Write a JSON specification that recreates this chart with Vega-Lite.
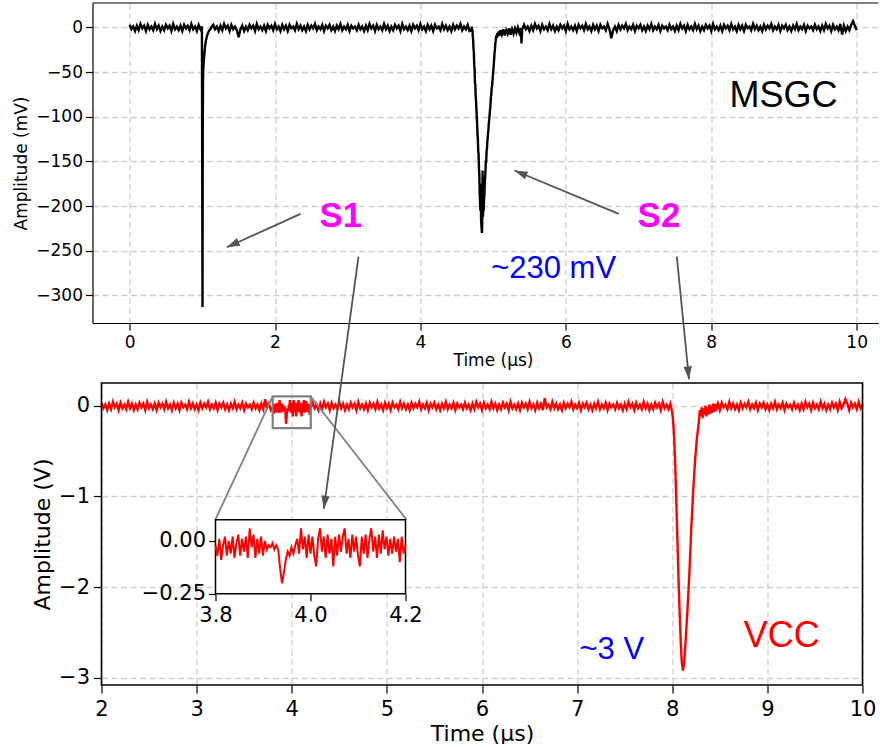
{
  "$schema": "https://vega.github.io/schema/vega-lite/v6.json",
  "background": "white",
  "padding": {"left": 11.5, "top": 2, "right": 0, "bottom": 0},
  "bounds": "flush",
  "spacing": 60,
  "config": {
    "view": {"stroke": null},
    "axis": {
      "labelFont": "DejaVu Sans", "titleFont": "DejaVu Sans", "titleFontWeight": "normal",
      "labelColor": "black", "titleColor": "black", "tickColor": "black", "domainColor": "black",
      "gridColor": "#cfcfcf", "gridDash": [6, 3.5], "gridWidth": 1.3, "tickWidth": 1.2,
      "labelFlush": false, "labelOverlap": false
    },
    "text": {"font": "Liberation Sans"}
  },
  "datasets": {
    "msgc": [
      {"t":0.000,"v":3},{"t":0.025,"v":-2},{"t":0.050,"v":1},{"t":0.075,"v":-4},{"t":0.100,"v":2},{"t":0.125,"v":-3},{"t":0.150,"v":4},{"t":0.175,"v":-1},{"t":0.200,"v":2},{"t":0.225,"v":-4},{"t":0.250,"v":3},{"t":0.275,"v":-2},{"t":0.300,"v":1},{"t":0.325,"v":-3},{"t":0.350,"v":4},{"t":0.375,"v":-2},{"t":0.400,"v":2},{"t":0.425,"v":-4},{"t":0.450,"v":1},{"t":0.475,"v":-3},{"t":0.500,"v":3},{"t":0.525,"v":-1},{"t":0.550,"v":2},{"t":0.575,"v":-4},{"t":0.600,"v":4},{"t":0.625,"v":-2},{"t":0.650,"v":1},{"t":0.675,"v":-3},{"t":0.700,"v":2},{"t":0.725,"v":-4},{"t":0.750,"v":3},{"t":0.775,"v":-1},{"t":0.800,"v":2},{"t":0.825,"v":-3},{"t":0.850,"v":4},{"t":0.875,"v":-2},{"t":0.900,"v":1},{"t":0.925,"v":-4},{"t":0.950,"v":3},{"t":0.975,"v":-2},{"t":0.995,"v":1},
      {"t":1.003,"v":-313},{"t":1.006,"v":-120},{"t":1.010,"v":-58},{"t":1.014,"v":-46},{"t":1.018,"v":-40},{"t":1.025,"v":-33},{"t":1.032,"v":-27},{"t":1.04,"v":-20},{"t":1.05,"v":-15},{"t":1.06,"v":-11},{"t":1.075,"v":-7},{"t":1.09,"v":-4},{"t":1.11,"v":-2},{"t":1.13,"v":1},
      {"t":1.150,"v":3},{"t":1.175,"v":-2},{"t":1.200,"v":1},{"t":1.225,"v":-4},{"t":1.250,"v":2},{"t":1.275,"v":-3},{"t":1.300,"v":4},{"t":1.325,"v":-1},{"t":1.350,"v":2},{"t":1.375,"v":-4},{"t":1.400,"v":3},{"t":1.425,"v":-2},{"t":1.450,"v":1},{"t":1.475,"v":-3},{"t":1.500,"v":-11},{"t":1.525,"v":-2},{"t":1.550,"v":2},{"t":1.575,"v":-4},{"t":1.600,"v":1},{"t":1.625,"v":-3},{"t":1.650,"v":3},{"t":1.675,"v":-1},{"t":1.700,"v":2},{"t":1.725,"v":-4},{"t":1.750,"v":4},{"t":1.775,"v":-2},{"t":1.800,"v":1},{"t":1.825,"v":-3},{"t":1.850,"v":2},{"t":1.875,"v":-4},{"t":1.900,"v":3},{"t":1.925,"v":-1},{"t":1.950,"v":2},{"t":1.975,"v":-3},{"t":2.000,"v":4},{"t":2.025,"v":-2},{"t":2.050,"v":1},{"t":2.075,"v":-4},{"t":2.100,"v":3},{"t":2.125,"v":-2},
      {"t":2.150,"v":2},{"t":2.175,"v":-4},{"t":2.200,"v":3},{"t":2.225,"v":-1},{"t":2.250,"v":1},{"t":2.275,"v":-3},{"t":2.300,"v":4},{"t":2.325,"v":-2},{"t":2.350,"v":2},{"t":2.375,"v":-3},{"t":2.400,"v":1},{"t":2.425,"v":-4},{"t":2.450,"v":3},{"t":2.475,"v":-2},{"t":2.500,"v":2},{"t":2.525,"v":-1},{"t":2.550,"v":4},{"t":2.575,"v":-3},{"t":2.600,"v":1},{"t":2.625,"v":-2},{"t":2.650,"v":3},{"t":2.675,"v":-4},{"t":2.700,"v":2},{"t":2.725,"v":-1},{"t":2.750,"v":3},{"t":2.775,"v":-3},{"t":2.800,"v":1},{"t":2.825,"v":-4},{"t":2.850,"v":2},{"t":2.875,"v":-2},{"t":2.900,"v":4},{"t":2.925,"v":-3},{"t":2.950,"v":1},{"t":2.975,"v":-2},{"t":3.000,"v":3},{"t":3.025,"v":-4},{"t":3.050,"v":2},{"t":3.075,"v":-1},{"t":3.100,"v":1},{"t":3.125,"v":-3},
      {"t":3.150,"v":3},{"t":3.175,"v":-2},{"t":3.200,"v":1},{"t":3.225,"v":-4},{"t":3.250,"v":2},{"t":3.275,"v":-3},{"t":3.300,"v":4},{"t":3.325,"v":-1},{"t":3.350,"v":2},{"t":3.375,"v":-4},{"t":3.400,"v":3},{"t":3.425,"v":-2},{"t":3.450,"v":1},{"t":3.475,"v":-3},{"t":3.500,"v":4},{"t":3.525,"v":-2},{"t":3.550,"v":2},{"t":3.575,"v":-4},{"t":3.600,"v":1},{"t":3.625,"v":-3},{"t":3.650,"v":3},{"t":3.675,"v":-1},{"t":3.700,"v":2},{"t":3.725,"v":-4},{"t":3.750,"v":4},{"t":3.775,"v":-2},{"t":3.800,"v":1},{"t":3.825,"v":-3},{"t":3.850,"v":2},{"t":3.875,"v":-4},{"t":3.900,"v":3},{"t":3.925,"v":-1},{"t":3.950,"v":2},{"t":3.975,"v":-3},{"t":4.000,"v":4},{"t":4.025,"v":-2},{"t":4.050,"v":1},{"t":4.075,"v":-4},{"t":4.100,"v":3},{"t":4.125,"v":-2},
      {"t":4.150,"v":2},{"t":4.175,"v":-4},{"t":4.200,"v":3},{"t":4.225,"v":-1},{"t":4.250,"v":1},{"t":4.275,"v":-3},{"t":4.300,"v":4},{"t":4.325,"v":-2},{"t":4.350,"v":2},{"t":4.375,"v":-3},{"t":4.400,"v":1},{"t":4.425,"v":-4},{"t":4.450,"v":3},{"t":4.475,"v":-2},{"t":4.500,"v":2},{"t":4.525,"v":-1},{"t":4.550,"v":4},{"t":4.575,"v":-3},{"t":4.600,"v":1},{"t":4.625,"v":-2},{"t":4.650,"v":3},{"t":4.675,"v":-4},
      {"t":4.700,"v":-3},{"t":4.705,"v":1},{"t":4.710,"v":-4},{"t":4.715,"v":-2},{"t":4.720,"v":-10},{"t":4.725,"v":-14},{"t":4.730,"v":-24},{"t":4.735,"v":-28},{"t":4.740,"v":-42},{"t":4.745,"v":-46},{"t":4.750,"v":-62},{"t":4.755,"v":-64},{"t":4.760,"v":-78},{"t":4.765,"v":-82},{"t":4.770,"v":-92},{"t":4.775,"v":-100},{"t":4.780,"v":-108},{"t":4.785,"v":-120},{"t":4.790,"v":-125},{"t":4.795,"v":-138},{"t":4.800,"v":-142},{"t":4.805,"v":-158},{"t":4.810,"v":-165},{"t":4.815,"v":-185},{"t":4.820,"v":-195},{"t":4.825,"v":-205},{"t":4.830,"v":-175},{"t":4.835,"v":-218},{"t":4.840,"v":-222},{"t":4.846,"v":-230},{"t":4.850,"v":-218},{"t":4.855,"v":-160},{"t":4.860,"v":-212},{"t":4.865,"v":-200},{"t":4.870,"v":-205},{"t":4.875,"v":-192},{"t":4.880,"v":-188},{"t":4.885,"v":-172},{"t":4.890,"v":-168},{"t":4.895,"v":-160},{"t":4.900,"v":-150},{"t":4.905,"v":-150},{"t":4.910,"v":-138},{"t":4.915,"v":-136},{"t":4.920,"v":-128},{"t":4.925,"v":-124},{"t":4.930,"v":-118},{"t":4.935,"v":-115},{"t":4.940,"v":-108},{"t":4.945,"v":-104},{"t":4.950,"v":-100},{"t":4.955,"v":-94},{"t":4.960,"v":-90},{"t":4.965,"v":-84},{"t":4.970,"v":-78},{"t":4.975,"v":-74},{"t":4.980,"v":-68},{"t":4.985,"v":-66},{"t":4.990,"v":-60},{"t":4.995,"v":-56},{"t":5.000,"v":-50},{"t":5.005,"v":-46},{"t":5.010,"v":-40},{"t":5.015,"v":-34},{"t":5.020,"v":-28},{"t":5.025,"v":-24},{"t":5.030,"v":-18},{"t":5.035,"v":-15},{"t":5.040,"v":-11},{"t":5.045,"v":-9},{"t":5.050,"v":-12},{"t":5.060,"v":-6},{"t":5.070,"v":-10},{"t":5.080,"v":-4},{"t":5.090,"v":-9},{"t":5.100,"v":-3},
      {"t":5.12,"v":-8},{"t":5.14,"v":-2},{"t":5.16,"v":-9},{"t":5.18,"v":-3},{"t":5.20,"v":-7},{"t":5.22,"v":-1},{"t":5.24,"v":-8},{"t":5.26,"v":-2},{"t":5.28,"v":-7},{"t":5.30,"v":-1},{"t":5.32,"v":-6},{"t":5.34,"v":0},{"t":5.36,"v":-6},{"t":5.38,"v":-1},{"t":5.39,"v":-18},{"t":5.40,"v":-2},
      {"t":5.425,"v":3},{"t":5.450,"v":-2},{"t":5.475,"v":1},{"t":5.500,"v":-4},{"t":5.525,"v":2},{"t":5.550,"v":-3},{"t":5.575,"v":4},{"t":5.600,"v":-1},{"t":5.625,"v":2},{"t":5.650,"v":-4},{"t":5.675,"v":3},{"t":5.700,"v":-2},{"t":5.725,"v":1},{"t":5.750,"v":-3},{"t":5.775,"v":4},{"t":5.800,"v":-2},{"t":5.825,"v":2},{"t":5.850,"v":-4},{"t":5.875,"v":1},{"t":5.900,"v":-3},{"t":5.925,"v":3},{"t":5.950,"v":-1},{"t":5.975,"v":2},{"t":6.000,"v":-4},{"t":6.025,"v":4},{"t":6.050,"v":-2},{"t":6.075,"v":1},{"t":6.100,"v":-3},{"t":6.125,"v":2},{"t":6.150,"v":-4},{"t":6.175,"v":3},{"t":6.200,"v":-1},{"t":6.225,"v":2},{"t":6.250,"v":-3},{"t":6.275,"v":4},{"t":6.300,"v":-2},{"t":6.325,"v":1},{"t":6.350,"v":-4},{"t":6.375,"v":3},{"t":6.400,"v":-2},
      {"t":6.425,"v":2},{"t":6.450,"v":-4},{"t":6.475,"v":3},{"t":6.500,"v":-1},{"t":6.525,"v":1},{"t":6.550,"v":-3},{"t":6.575,"v":4},{"t":6.600,"v":-2},{"t":6.625,"v":-12},{"t":6.650,"v":-3},{"t":6.675,"v":1},{"t":6.700,"v":-4},{"t":6.725,"v":3},{"t":6.750,"v":-2},{"t":6.775,"v":2},{"t":6.800,"v":-1},{"t":6.825,"v":4},{"t":6.850,"v":-3},{"t":6.875,"v":1},{"t":6.900,"v":-2},{"t":6.925,"v":3},{"t":6.950,"v":-4},{"t":6.975,"v":2},{"t":7.000,"v":-1},{"t":7.025,"v":3},{"t":7.050,"v":-3},{"t":7.075,"v":1},{"t":7.100,"v":-4},{"t":7.125,"v":2},{"t":7.150,"v":-2},{"t":7.175,"v":4},{"t":7.200,"v":-3},{"t":7.225,"v":1},{"t":7.250,"v":-2},{"t":7.275,"v":3},{"t":7.300,"v":-4},{"t":7.325,"v":2},{"t":7.350,"v":-1},{"t":7.375,"v":1},{"t":7.400,"v":-3},
      {"t":7.425,"v":3},{"t":7.450,"v":-2},{"t":7.475,"v":1},{"t":7.500,"v":-4},{"t":7.525,"v":2},{"t":7.550,"v":-3},{"t":7.575,"v":4},{"t":7.600,"v":-1},{"t":7.625,"v":2},{"t":7.650,"v":-4},{"t":7.675,"v":3},{"t":7.700,"v":-2},{"t":7.725,"v":1},{"t":7.750,"v":-3},{"t":7.775,"v":4},{"t":7.800,"v":-2},{"t":7.825,"v":2},{"t":7.850,"v":-4},{"t":7.875,"v":1},{"t":7.900,"v":-3},{"t":7.925,"v":3},{"t":7.950,"v":-1},{"t":7.975,"v":2},{"t":8.000,"v":-4},{"t":8.025,"v":4},{"t":8.050,"v":-2},{"t":8.075,"v":1},{"t":8.100,"v":-3},{"t":8.125,"v":2},{"t":8.150,"v":-4},{"t":8.175,"v":3},{"t":8.200,"v":-1},{"t":8.225,"v":2},{"t":8.250,"v":-3},{"t":8.275,"v":4},{"t":8.300,"v":-2},{"t":8.325,"v":1},{"t":8.350,"v":-4},{"t":8.375,"v":3},{"t":8.400,"v":-2},
      {"t":8.425,"v":2},{"t":8.450,"v":-4},{"t":8.475,"v":3},{"t":8.500,"v":-1},{"t":8.525,"v":1},{"t":8.550,"v":-3},{"t":8.575,"v":4},{"t":8.600,"v":-2},{"t":8.625,"v":2},{"t":8.650,"v":-3},{"t":8.675,"v":1},{"t":8.700,"v":-4},{"t":8.725,"v":3},{"t":8.750,"v":-2},{"t":8.775,"v":2},{"t":8.800,"v":-1},{"t":8.825,"v":4},{"t":8.850,"v":-3},{"t":8.875,"v":1},{"t":8.900,"v":-2},{"t":8.925,"v":3},{"t":8.950,"v":-4},{"t":8.975,"v":2},{"t":9.000,"v":-1},{"t":9.025,"v":3},{"t":9.050,"v":-3},{"t":9.075,"v":1},{"t":9.100,"v":-4},{"t":9.125,"v":2},{"t":9.150,"v":-2},{"t":9.175,"v":4},{"t":9.200,"v":-3},{"t":9.225,"v":1},{"t":9.250,"v":-2},{"t":9.275,"v":3},{"t":9.300,"v":-4},{"t":9.325,"v":2},{"t":9.350,"v":-1},{"t":9.375,"v":1},{"t":9.400,"v":-3},
      {"t":9.425,"v":3},{"t":9.450,"v":-2},{"t":9.475,"v":1},{"t":9.500,"v":-4},{"t":9.525,"v":2},{"t":9.550,"v":-3},{"t":9.575,"v":4},{"t":9.600,"v":-1},{"t":9.625,"v":2},{"t":9.650,"v":-4},{"t":9.675,"v":3},{"t":9.700,"v":-2},{"t":9.725,"v":1},{"t":9.750,"v":-3},{"t":9.775,"v":4},{"t":9.800,"v":-8},{"t":9.825,"v":2},{"t":9.850,"v":-4},{"t":9.875,"v":1},{"t":9.900,"v":-3},{"t":9.925,"v":3},{"t":9.950,"v":7},{"t":9.975,"v":2},{"t":10.000,"v":-3}
    ],
    "vcc": [
      {"t":2.00,"v":0.03},{"t":2.02,"v":-0.03},{"t":2.04,"v":0.01},{"t":2.06,"v":-0.05},{"t":2.08,"v":0.02},{"t":2.10,"v":-0.04},{"t":2.12,"v":0.04},{"t":2.14,"v":-0.02},{"t":2.16,"v":0.02},{"t":2.18,"v":-0.05},{"t":2.20,"v":0.03},{"t":2.22,"v":-0.03},{"t":2.24,"v":0.01},{"t":2.26,"v":-0.04},{"t":2.28,"v":0.04},{"t":2.30,"v":-0.03},{"t":2.32,"v":0.02},{"t":2.34,"v":-0.05},{"t":2.36,"v":0.01},{"t":2.38,"v":-0.04},{"t":2.40,"v":0.03},{"t":2.42,"v":-0.02},{"t":2.44,"v":0.02},{"t":2.46,"v":-0.05},{"t":2.48,"v":0.04},{"t":2.50,"v":-0.03},{"t":2.52,"v":0.01},{"t":2.54,"v":-0.04},{"t":2.56,"v":0.02},{"t":2.58,"v":-0.05},{"t":2.60,"v":0.03},{"t":2.62,"v":-0.02},{"t":2.64,"v":0.02},{"t":2.66,"v":-0.04},{"t":2.68,"v":0.04},{"t":2.70,"v":-0.03},{"t":2.72,"v":0.01},{"t":2.74,"v":-0.05},{"t":2.76,"v":0.03},{"t":2.78,"v":-0.03},
      {"t":2.80,"v":0.02},{"t":2.82,"v":-0.05},{"t":2.84,"v":0.03},{"t":2.86,"v":-0.02},{"t":2.88,"v":0.01},{"t":2.90,"v":-0.04},{"t":2.92,"v":0.04},{"t":2.94,"v":-0.03},{"t":2.96,"v":0.02},{"t":2.98,"v":-0.04},{"t":3.00,"v":0.01},{"t":3.02,"v":-0.05},{"t":3.04,"v":0.03},{"t":3.06,"v":-0.03},{"t":3.08,"v":0.02},{"t":3.10,"v":-0.02},{"t":3.12,"v":0.04},{"t":3.14,"v":-0.04},{"t":3.16,"v":0.01},{"t":3.18,"v":-0.03},{"t":3.20,"v":0.03},{"t":3.22,"v":-0.05},{"t":3.24,"v":0.02},{"t":3.26,"v":-0.02},{"t":3.28,"v":0.03},{"t":3.30,"v":-0.04},{"t":3.32,"v":0.01},{"t":3.34,"v":-0.05},{"t":3.36,"v":0.02},{"t":3.38,"v":-0.03},{"t":3.40,"v":0.04},{"t":3.42,"v":-0.04},{"t":3.44,"v":0.01},{"t":3.46,"v":-0.03},{"t":3.48,"v":0.03},{"t":3.50,"v":-0.05},{"t":3.52,"v":0.02},{"t":3.54,"v":-0.02},{"t":3.56,"v":0.01},{"t":3.58,"v":-0.04},
      {"t":3.60,"v":0.03},{"t":3.62,"v":-0.03},{"t":3.64,"v":0.01},{"t":3.66,"v":-0.05},{"t":3.68,"v":0.02},{"t":3.70,"v":-0.04},{"t":3.72,"v":0.07},{"t":3.74,"v":-0.02},{"t":3.76,"v":0.02},{"t":3.78,"v":-0.05},
      {"t":3.800,"v":-0.02},{"t":3.804,"v":-0.07},{"t":3.808,"v":0.01},{"t":3.812,"v":-0.09},{"t":3.816,"v":-0.02},{"t":3.820,"v":0.02},{"t":3.824,"v":-0.07},{"t":3.828,"v":0.00},{"t":3.832,"v":-0.06},{"t":3.836,"v":0.02},{"t":3.840,"v":-0.08},{"t":3.844,"v":-0.01},{"t":3.848,"v":0.03},{"t":3.852,"v":-0.07},{"t":3.856,"v":0.01},{"t":3.860,"v":-0.05},{"t":3.864,"v":0.02},{"t":3.868,"v":-0.08},{"t":3.872,"v":0.06},{"t":3.876,"v":-0.03},{"t":3.880,"v":0.03},{"t":3.884,"v":-0.08},{"t":3.888,"v":0.01},{"t":3.892,"v":-0.06},{"t":3.896,"v":0.02},{"t":3.900,"v":-0.07},{"t":3.904,"v":0.00},{"t":3.908,"v":-0.04},{"t":3.912,"v":-0.02},{"t":3.916,"v":-0.03},{"t":3.920,"v":-0.01},{"t":3.924,"v":-0.04},{"t":3.928,"v":-0.02},{"t":3.932,"v":-0.04},{"t":3.936,"v":-0.13},{"t":3.940,"v":-0.20},{"t":3.944,"v":-0.15},{"t":3.948,"v":-0.09},{"t":3.952,"v":-0.05},{"t":3.956,"v":-0.07},{"t":3.960,"v":-0.03},{"t":3.964,"v":-0.06},{"t":3.968,"v":-0.02},{"t":3.972,"v":0.01},{"t":3.976,"v":-0.06},{"t":3.980,"v":0.06},{"t":3.984,"v":-0.04},{"t":3.988,"v":0.02},{"t":3.992,"v":-0.08},{"t":3.996,"v":0.03},{"t":4.000,"v":-0.06},{"t":4.004,"v":0.02},{"t":4.008,"v":-0.07},{"t":4.012,"v":-0.12},{"t":4.016,"v":0.01},{"t":4.020,"v":0.06},{"t":4.024,"v":-0.05},{"t":4.028,"v":0.02},{"t":4.032,"v":-0.08},{"t":4.036,"v":0.03},{"t":4.040,"v":-0.06},{"t":4.044,"v":0.01},{"t":4.048,"v":-0.12},{"t":4.052,"v":0.02},{"t":4.056,"v":-0.07},{"t":4.060,"v":0.03},{"t":4.064,"v":-0.05},{"t":4.068,"v":0.02},{"t":4.072,"v":0.06},{"t":4.076,"v":-0.06},{"t":4.080,"v":0.01},{"t":4.084,"v":-0.08},{"t":4.088,"v":0.03},{"t":4.092,"v":-0.05},{"t":4.096,"v":0.02},{"t":4.100,"v":-0.07},{"t":4.104,"v":-0.12},{"t":4.108,"v":0.02},{"t":4.112,"v":-0.06},{"t":4.116,"v":0.03},{"t":4.120,"v":-0.08},{"t":4.124,"v":0.01},{"t":4.128,"v":0.06},{"t":4.132,"v":-0.05},{"t":4.136,"v":0.02},{"t":4.140,"v":-0.08},{"t":4.144,"v":0.03},{"t":4.148,"v":-0.06},{"t":4.152,"v":0.05},{"t":4.156,"v":-0.04},{"t":4.160,"v":0.02},{"t":4.164,"v":-0.07},{"t":4.168,"v":0.01},{"t":4.172,"v":-0.06},{"t":4.176,"v":0.02},{"t":4.180,"v":-0.05},{"t":4.184,"v":0.01},{"t":4.188,"v":-0.10},{"t":4.192,"v":0.02},{"t":4.196,"v":-0.06},{"t":4.200,"v":-0.02},
      {"t":4.22,"v":0.03},{"t":4.24,"v":-0.03},{"t":4.26,"v":0.01},{"t":4.28,"v":-0.05},{"t":4.30,"v":0.02},{"t":4.32,"v":-0.04},{"t":4.34,"v":0.04},{"t":4.36,"v":-0.02},{"t":4.38,"v":0.02},{"t":4.40,"v":-0.05},{"t":4.42,"v":0.03},{"t":4.44,"v":-0.03},{"t":4.46,"v":0.01},{"t":4.48,"v":-0.04},{"t":4.50,"v":0.04},{"t":4.52,"v":-0.03},{"t":4.54,"v":0.02},{"t":4.56,"v":-0.05},{"t":4.58,"v":0.01},{"t":4.60,"v":-0.04},{"t":4.62,"v":0.03},{"t":4.64,"v":-0.02},{"t":4.66,"v":0.02},{"t":4.68,"v":-0.05},{"t":4.70,"v":0.04},{"t":4.72,"v":-0.03},{"t":4.74,"v":0.01},{"t":4.76,"v":-0.04},{"t":4.78,"v":0.02},{"t":4.80,"v":-0.05},{"t":4.82,"v":0.03},{"t":4.84,"v":-0.02},{"t":4.86,"v":0.02},{"t":4.88,"v":-0.04},{"t":4.90,"v":0.04},{"t":4.92,"v":-0.03},{"t":4.94,"v":0.01},{"t":4.96,"v":-0.05},{"t":4.98,"v":0.03},{"t":5.00,"v":-0.03},
      {"t":5.02,"v":0.02},{"t":5.04,"v":-0.05},{"t":5.06,"v":0.03},{"t":5.08,"v":-0.02},{"t":5.10,"v":0.01},{"t":5.12,"v":-0.04},{"t":5.14,"v":0.04},{"t":5.16,"v":-0.03},{"t":5.18,"v":0.02},{"t":5.20,"v":-0.04},{"t":5.22,"v":0.01},{"t":5.24,"v":-0.05},{"t":5.26,"v":0.03},{"t":5.28,"v":-0.03},{"t":5.30,"v":0.02},{"t":5.32,"v":-0.02},{"t":5.34,"v":0.04},{"t":5.36,"v":-0.04},{"t":5.38,"v":0.01},{"t":5.40,"v":-0.03},{"t":5.42,"v":0.03},{"t":5.44,"v":-0.05},{"t":5.46,"v":0.02},{"t":5.48,"v":-0.02},{"t":5.50,"v":0.03},{"t":5.52,"v":-0.04},{"t":5.54,"v":0.01},{"t":5.56,"v":-0.05},{"t":5.58,"v":0.02},{"t":5.60,"v":-0.03},{"t":5.62,"v":0.04},{"t":5.64,"v":-0.04},{"t":5.66,"v":0.01},{"t":5.68,"v":-0.03},{"t":5.70,"v":0.03},{"t":5.72,"v":-0.05},{"t":5.74,"v":0.02},{"t":5.76,"v":-0.02},{"t":5.78,"v":0.01},{"t":5.80,"v":-0.04},
      {"t":5.82,"v":0.03},{"t":5.84,"v":-0.03},{"t":5.86,"v":0.01},{"t":5.88,"v":-0.05},{"t":5.90,"v":0.02},{"t":5.92,"v":-0.04},{"t":5.94,"v":0.04},{"t":5.96,"v":-0.02},{"t":5.98,"v":0.02},{"t":6.00,"v":-0.05},{"t":6.02,"v":0.03},{"t":6.04,"v":-0.03},{"t":6.06,"v":0.01},{"t":6.08,"v":-0.04},{"t":6.10,"v":0.04},{"t":6.12,"v":-0.03},{"t":6.14,"v":0.02},{"t":6.16,"v":-0.05},{"t":6.18,"v":0.01},{"t":6.20,"v":-0.04},{"t":6.22,"v":0.03},{"t":6.24,"v":-0.02},{"t":6.26,"v":0.02},{"t":6.28,"v":-0.05},{"t":6.30,"v":0.04},{"t":6.32,"v":-0.03},{"t":6.34,"v":0.01},{"t":6.36,"v":-0.04},{"t":6.38,"v":0.02},{"t":6.40,"v":-0.05},{"t":6.42,"v":0.03},{"t":6.44,"v":-0.02},{"t":6.46,"v":0.02},{"t":6.48,"v":-0.04},{"t":6.50,"v":0.04},{"t":6.52,"v":-0.03},{"t":6.54,"v":0.01},{"t":6.56,"v":-0.05},{"t":6.58,"v":0.03},{"t":6.60,"v":-0.03},
      {"t":6.62,"v":0.02},{"t":6.64,"v":-0.05},{"t":6.66,"v":0.08},{"t":6.68,"v":-0.02},{"t":6.70,"v":0.01},{"t":6.72,"v":-0.04},{"t":6.74,"v":0.04},{"t":6.76,"v":-0.03},{"t":6.78,"v":0.02},{"t":6.80,"v":-0.04},{"t":6.82,"v":0.01},{"t":6.84,"v":-0.05},{"t":6.86,"v":0.03},{"t":6.88,"v":-0.03},{"t":6.90,"v":0.02},{"t":6.92,"v":-0.02},{"t":6.94,"v":0.04},{"t":6.96,"v":-0.04},{"t":6.98,"v":0.01},{"t":7.00,"v":-0.03},{"t":7.02,"v":0.03},{"t":7.04,"v":-0.05},{"t":7.06,"v":0.02},{"t":7.08,"v":-0.02},{"t":7.10,"v":0.03},{"t":7.12,"v":-0.04},{"t":7.14,"v":0.01},{"t":7.16,"v":-0.05},{"t":7.18,"v":0.02},{"t":7.20,"v":-0.03},{"t":7.22,"v":0.04},{"t":7.24,"v":-0.04},{"t":7.26,"v":0.01},{"t":7.28,"v":-0.03},{"t":7.30,"v":0.03},{"t":7.32,"v":-0.05},{"t":7.34,"v":0.02},{"t":7.36,"v":-0.02},{"t":7.38,"v":0.01},{"t":7.40,"v":-0.04},
      {"t":7.42,"v":0.03},{"t":7.44,"v":-0.03},{"t":7.46,"v":0.01},{"t":7.48,"v":-0.05},{"t":7.50,"v":0.02},{"t":7.52,"v":-0.04},{"t":7.54,"v":0.04},{"t":7.56,"v":-0.02},{"t":7.58,"v":0.02},{"t":7.60,"v":-0.05},{"t":7.62,"v":0.03},{"t":7.64,"v":-0.03},{"t":7.66,"v":0.01},{"t":7.68,"v":-0.04},{"t":7.70,"v":0.04},{"t":7.72,"v":-0.03},{"t":7.74,"v":0.02},{"t":7.76,"v":-0.05},{"t":7.78,"v":0.01},{"t":7.80,"v":-0.04},{"t":7.82,"v":0.03},{"t":7.84,"v":-0.02},{"t":7.86,"v":0.02},{"t":7.88,"v":-0.05},{"t":7.90,"v":0.04},{"t":7.92,"v":-0.03},{"t":7.94,"v":0.01},{"t":7.96,"v":-0.04},
      {"t":7.98,"v":0.02},{"t":7.99,"v":-0.03},{"t":8.00,"v":-0.08},{"t":8.01,"v":-0.18},{"t":8.02,"v":-0.35},{"t":8.03,"v":-0.62},{"t":8.04,"v":-0.95},{"t":8.05,"v":-1.32},{"t":8.06,"v":-1.70},{"t":8.07,"v":-2.05},{"t":8.08,"v":-2.35},{"t":8.09,"v":-2.62},{"t":8.10,"v":-2.82},{"t":8.112,"v":-2.92},{"t":8.125,"v":-2.84},{"t":8.14,"v":-2.60},{"t":8.16,"v":-2.25},{"t":8.18,"v":-1.85},{"t":8.20,"v":-1.35},{"t":8.22,"v":-0.95},{"t":8.24,"v":-0.60},{"t":8.26,"v":-0.35},{"t":8.28,"v":-0.18},{"t":8.29,"v":-0.05},{"t":8.30,"v":-0.12},{"t":8.31,"v":-0.02},{"t":8.32,"v":-0.14},{"t":8.33,"v":-0.03},{"t":8.34,"v":-0.10},{"t":8.35,"v":0.00},{"t":8.36,"v":-0.12},{"t":8.37,"v":-0.02},{"t":8.38,"v":-0.10},{"t":8.39,"v":0.01},{"t":8.40,"v":-0.09},{"t":8.41,"v":-0.01},{"t":8.42,"v":-0.08},{"t":8.43,"v":0.02},{"t":8.44,"v":-0.07},{"t":8.45,"v":0.02},{"t":8.46,"v":-0.06},
      {"t":8.48,"v":0.02},{"t":8.50,"v":-0.05},{"t":8.52,"v":0.03},{"t":8.54,"v":-0.02},{"t":8.56,"v":0.01},{"t":8.58,"v":-0.04},{"t":8.60,"v":0.04},{"t":8.62,"v":-0.03},{"t":8.64,"v":0.02},{"t":8.66,"v":-0.04},{"t":8.68,"v":0.01},{"t":8.70,"v":-0.05},{"t":8.72,"v":0.03},{"t":8.74,"v":-0.03},{"t":8.76,"v":0.02},{"t":8.78,"v":-0.02},{"t":8.80,"v":0.04},{"t":8.82,"v":-0.04},{"t":8.84,"v":0.01},{"t":8.86,"v":-0.03},{"t":8.88,"v":0.03},{"t":8.90,"v":-0.05},{"t":8.92,"v":0.02},{"t":8.94,"v":-0.02},{"t":8.96,"v":0.03},{"t":8.98,"v":-0.04},{"t":9.00,"v":0.01},{"t":9.02,"v":-0.05},{"t":9.04,"v":0.02},{"t":9.06,"v":-0.03},{"t":9.08,"v":0.04},{"t":9.10,"v":-0.04},{"t":9.12,"v":0.01},{"t":9.14,"v":-0.03},{"t":9.16,"v":0.03},{"t":9.18,"v":-0.05},{"t":9.20,"v":0.02},{"t":9.22,"v":-0.02},{"t":9.24,"v":0.01},{"t":9.26,"v":-0.04},
      {"t":9.28,"v":0.03},{"t":9.30,"v":-0.03},{"t":9.32,"v":0.01},{"t":9.34,"v":-0.05},{"t":9.36,"v":0.02},{"t":9.38,"v":-0.04},{"t":9.40,"v":0.04},{"t":9.42,"v":-0.02},{"t":9.44,"v":0.02},{"t":9.46,"v":-0.05},{"t":9.48,"v":0.03},{"t":9.50,"v":-0.03},{"t":9.52,"v":0.01},{"t":9.54,"v":-0.04},{"t":9.56,"v":0.04},{"t":9.58,"v":-0.03},{"t":9.60,"v":0.02},{"t":9.62,"v":-0.05},{"t":9.64,"v":0.01},{"t":9.66,"v":-0.04},{"t":9.68,"v":0.03},{"t":9.70,"v":-0.02},{"t":9.72,"v":0.02},{"t":9.74,"v":-0.05},{"t":9.76,"v":0.04},{"t":9.78,"v":-0.03},{"t":9.80,"v":0.01},{"t":9.82,"v":0.07},{"t":9.84,"v":0.02},{"t":9.86,"v":-0.05},{"t":9.88,"v":0.03},{"t":9.90,"v":-0.02},{"t":9.92,"v":0.02},{"t":9.94,"v":-0.04},{"t":9.96,"v":0.04},{"t":9.98,"v":-0.03},{"t":10.00,"v":0.01}
    ]
  },
  "vconcat": [
    {
      "width": 786,
      "height": 320,
      "layer": [
        {
          "data": {"name": "msgc"},
          "mark": {"type": "line", "color": "black", "strokeWidth": 2.4},
          "encoding": {
            "x": {"field": "t", "type": "quantitative",
              "scale": {"domain": [-0.51, 10.3], "nice": false, "zero": false},
              "axis": {"values": [0, 2, 4, 6, 8, 10], "format": "d", "title": "Time (μs)", "titleX": 400.5, "labelFontSize": 17, "titleFontSize": 17, "tickSize": 7, "labelPadding": 4, "titlePadding": 2, "domainWidth": 1.2}},
            "y": {"field": "v", "type": "quantitative",
              "scale": {"domain": [-330.8, 27.4], "nice": false, "zero": false},
              "axis": {"values": [0, -50, -100, -150, -200, -250, -300], "format": "d", "title": "Amplitude (mV)", "labelFontSize": 17, "titleFontSize": 17, "tickSize": 7, "labelPadding": 3, "titlePadding": 5.5, "domainWidth": 1.2}}
          }
        },
        {
          "data": {"values": [{"v": 27.4}]},
          "mark": {"type": "rule", "color": "black", "strokeWidth": 1.2},
          "encoding": {"y": {"field": "v", "type": "quantitative"}}
        },
        {
          "data": {"values": [{"t": 8.251, "v": -88.5, "label": "MSGC"}]},
          "mark": {"type": "text", "align": "left", "baseline": "alphabetic", "fontSize": 36, "color": "black"},
          "encoding": {"x": {"field": "t", "type": "quantitative"}, "y": {"field": "v", "type": "quantitative"}, "text": {"field": "label"}}
        },
        {
          "data": {"values": [{"t": 2.612, "v": -223.6, "label": "S1"}, {"t": 6.986, "v": -223.6, "label": "S2"}]},
          "mark": {"type": "text", "align": "left", "baseline": "alphabetic", "fontSize": 35, "fontWeight": "bold", "color": "#ff00ff"},
          "encoding": {"x": {"field": "t", "type": "quantitative"}, "y": {"field": "v", "type": "quantitative"}, "text": {"field": "label"}}
        },
        {
          "data": {"values": [{"t": 4.973, "v": -279.9, "label": "~230 mV"}]},
          "mark": {"type": "text", "align": "left", "baseline": "alphabetic", "fontSize": 31, "color": "#0000ff"},
          "encoding": {"x": {"field": "t", "type": "quantitative"}, "y": {"field": "v", "type": "quantitative"}, "text": {"field": "label"}}
        },
        {
          "data": {"values": [{"t": 2.351, "v": -208.6, "t2": 1.337, "v2": -246.0}, {"t": 6.728, "v": -208.6, "t2": 5.294, "v2": -160.1}]},
          "mark": {"type": "rule", "color": "#555555", "strokeWidth": 1.8},
          "encoding": {"x": {"field": "t", "type": "quantitative"}, "y": {"field": "v", "type": "quantitative"}, "x2": {"field": "t2"}, "y2": {"field": "v2"}}
        },
        {
          "data": {"values": [{"t": 1.337, "v": -246.0}]},
          "mark": {"type": "point", "shape": "M0,0L-0.32,1L0.32,1Z", "filled": true, "opacity": 1, "color": "#555555", "size": 676, "angle": 245.6},
          "encoding": {"x": {"field": "t", "type": "quantitative"}, "y": {"field": "v", "type": "quantitative"}}
        },
        {
          "data": {"values": [{"t": 5.294, "v": -160.1}]},
          "mark": {"type": "point", "shape": "M0,0L-0.32,1L0.32,1Z", "filled": true, "opacity": 1, "color": "#555555", "size": 676, "angle": 292.55},
          "encoding": {"x": {"field": "t", "type": "quantitative"}, "y": {"field": "v", "type": "quantitative"}}
        }
      ]
    },
    {
      "width": 770,
      "height": 302,
      "layer": [
        {
          "layer": [
            {
              "data": {"name": "vcc"},
              "mark": {"type": "line", "color": "#ff0000", "strokeWidth": 2.4},
              "encoding": {
                "x": {"field": "t", "type": "quantitative",
                  "scale": {"domain": [2, 10], "range": [9, 770], "nice": false, "zero": false},
                  "axis": {"orient": "bottom", "values": [2, 3, 4, 5, 6, 7, 8, 9, 10], "format": "d", "title": "Time (μs)", "labelFontSize": 21, "titleFontSize": 22, "tickSize": 8, "labelPadding": 5, "titlePadding": 4, "domain": false}},
                "y": {"field": "v", "type": "quantitative",
                  "scale": {"domain": [-3.078, 0.248], "nice": false, "zero": false},
                  "axis": {"orient": "left", "offset": -9, "values": [0, -1, -2, -3], "format": "d", "title": "Amplitude (V)", "labelFontSize": 21, "titleFontSize": 22, "tickSize": 8, "labelPadding": 4, "titlePadding": 4.5, "domain": false}}
              }
            },
            {
              "data": {"values": [{"t": 2, "v": -3.078, "t2": 10, "v2": 0.248}]},
              "mark": {"type": "rect", "fillOpacity": 0, "stroke": "black", "strokeWidth": 1.6},
              "encoding": {"x": {"field": "t", "type": "quantitative"}, "y": {"field": "v", "type": "quantitative"}, "x2": {"field": "t2"}, "y2": {"field": "v2"}}
            },
            {
              "data": {"values": [{"t": 3.8, "v": -0.25, "t2": 4.2, "v2": 0.1}]},
              "mark": {"type": "rect", "fillOpacity": 0, "stroke": "#808080", "strokeWidth": 2.2},
              "encoding": {"x": {"field": "t", "type": "quantitative"}, "y": {"field": "v", "type": "quantitative"}, "x2": {"field": "t2"}, "y2": {"field": "v2"}}
            },
            {
              "data": {"values": [{"t": 3.8, "v": 0.1, "t2": 3.198, "v2": -1.255}, {"t": 4.2, "v": 0.1, "t2": 5.205, "v2": -1.255}]},
              "mark": {"type": "rule", "color": "#808080", "strokeWidth": 1.8},
              "encoding": {"x": {"field": "t", "type": "quantitative"}, "y": {"field": "v", "type": "quantitative"}, "x2": {"field": "t2"}, "y2": {"field": "v2"}}
            },
            {
              "data": {"values": [{"t": 7.025, "v": -2.797, "label": "~3 V"}]},
              "mark": {"type": "text", "align": "left", "baseline": "alphabetic", "fontSize": 31, "color": "#0000ff"},
              "encoding": {"x": {"field": "t", "type": "quantitative"}, "y": {"field": "v", "type": "quantitative"}, "text": {"field": "label"}}
            },
            {
              "data": {"values": [{"t": 8.752, "v": -2.662, "label": "VCC"}]},
              "mark": {"type": "text", "align": "left", "baseline": "alphabetic", "fontSize": 36, "color": "#ff0000"},
              "encoding": {"x": {"field": "t", "type": "quantitative"}, "y": {"field": "v", "type": "quantitative"}, "text": {"field": "label"}}
            },
            {
              "data": {"values": [{"t": 4.702, "v": 1.641, "t2": 4.337, "v2": -1.137}, {"t": 8.048, "v": 1.641, "t2": 8.176, "v2": 0.287}]},
              "mark": {"type": "rule", "color": "#555555", "strokeWidth": 1.8},
              "encoding": {"x": {"field": "t", "type": "quantitative"}, "y": {"field": "v", "type": "quantitative"}, "x2": {"field": "t2"}, "y2": {"field": "v2"}}
            },
            {
              "data": {"values": [{"t": 4.337, "v": -1.137}]},
              "mark": {"type": "point", "shape": "M0,0L-0.32,1L0.32,1Z", "filled": true, "opacity": 1, "color": "#555555", "size": 676, "angle": 187.83},
              "encoding": {"x": {"field": "t", "type": "quantitative"}, "y": {"field": "v", "type": "quantitative"}}
            },
            {
              "data": {"values": [{"t": 8.176, "v": 0.287}]},
              "mark": {"type": "point", "shape": "M0,0L-0.32,1L0.32,1Z", "filled": true, "opacity": 1, "color": "#555555", "size": 676, "angle": 174.34},
              "encoding": {"x": {"field": "t", "type": "quantitative"}, "y": {"field": "v", "type": "quantitative"}}
            }
          ]
        },
        {
          "layer": [
            {
              "data": {"values": [{"t": 3.8, "v": -0.25, "t2": 4.2, "v2": 0.1}]},
              "mark": {"type": "rect", "fill": "white", "stroke": "black", "strokeWidth": 1.5},
              "encoding": {
                "x": {"field": "t", "type": "quantitative",
                  "scale": {"domain": [3.8, 4.2], "range": [123, 313], "nice": false, "zero": false},
                  "axis": {"orient": "bottom", "offset": -91.2, "values": [3.8, 4.0, 4.2], "format": ".1f", "title": null, "grid": false, "domain": false, "labelFontSize": 21, "tickSize": 7, "labelPadding": 4}},
                "x2": {"field": "t2"},
                "y": {"field": "v", "type": "quantitative",
                  "scale": {"domain": [-0.25, 0.1], "range": [210.8, 136.8], "nice": false, "zero": false},
                  "axis": {"orient": "left", "offset": -123, "values": [0, -0.25], "format": ".2f", "title": null, "grid": false, "domain": false, "labelFontSize": 21, "tickSize": 7, "labelPadding": 3}},
                "y2": {"field": "v2"}
              }
            },
            {
              "data": {"name": "vcc"},
              "transform": [{"filter": "datum.t >= 3.8 && datum.t <= 4.2"}],
              "mark": {"type": "line", "color": "#ff0000", "strokeWidth": 2},
              "encoding": {"x": {"field": "t", "type": "quantitative"}, "y": {"field": "v", "type": "quantitative"}}
            }
          ]
        }
      ],
      "resolve": {"scale": {"x": "independent", "y": "independent"}, "axis": {"x": "independent", "y": "independent"}}
    }
  ]
}
